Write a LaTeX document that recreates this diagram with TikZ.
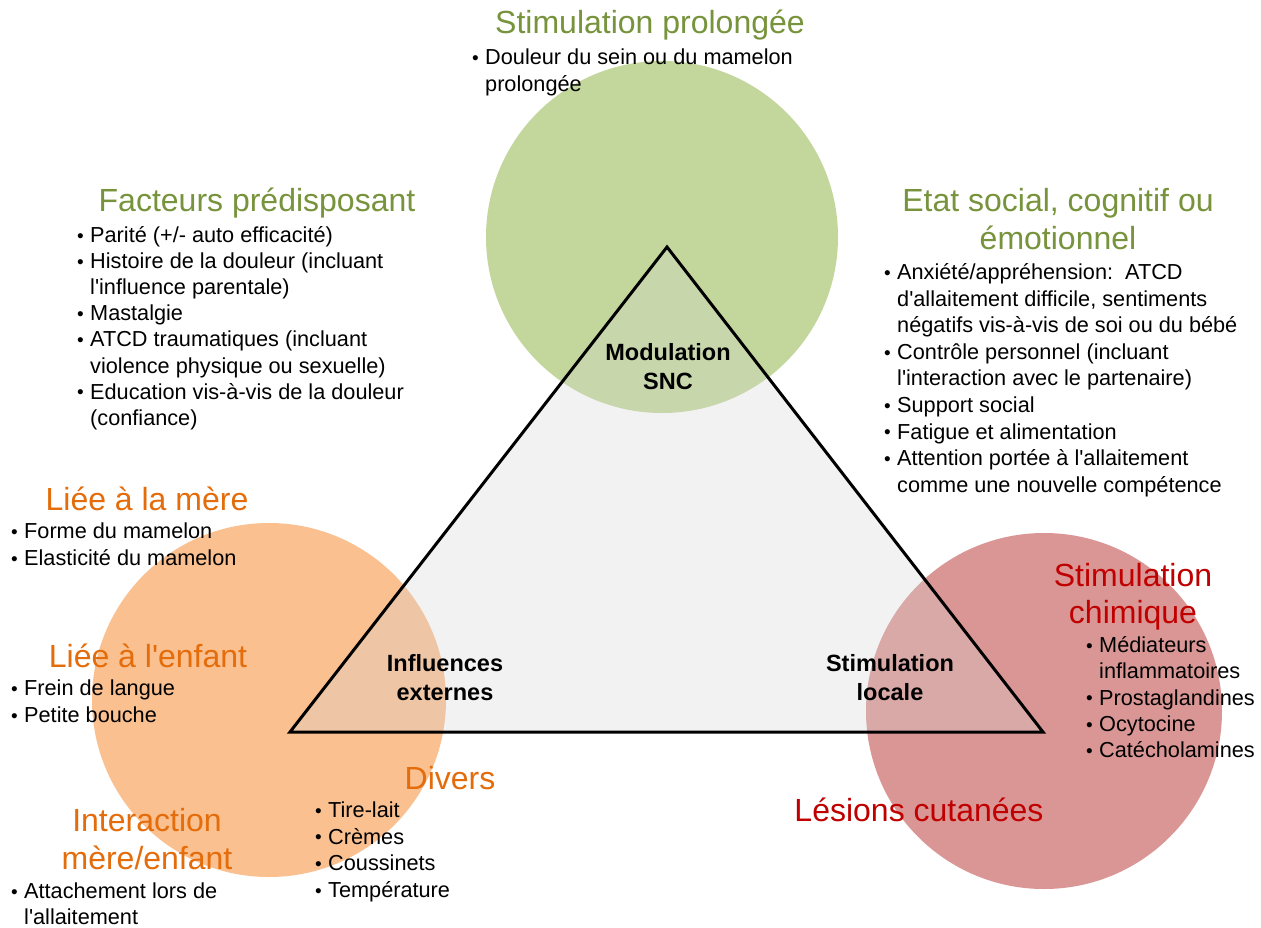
\documentclass[tikz,border=0pt]{standalone}
\usepackage{fontspec}
\setmainfont{Liberation Sans}[Ligatures=TeXOff]

% palette
\definecolor{titlegreen}{HTML}{77933C}
\definecolor{titleorange}{HTML}{E46C0A}
\definecolor{titlered}{HTML}{C00000}
\definecolor{circgreen}{HTML}{C3D69B}
\definecolor{circorange}{HTML}{FAC090}
\definecolor{circred}{HTML}{D99694}
\definecolor{trifill}{RGB}{214,214,214}

% stacked lines whose baseline is the first line
\newcommand\centerlines[1]{\vtop{\halign{\hfil##\hfil\cr#1\crcr}}}
\newcommand\leftlines[1]{\vtop{\halign{##\hfil\cr#1\crcr}}}
% bullet and hanging indent
\newcommand\bul{\hbox to 13pt{\raise0.3pt\hbox{\fontsize{19}{19}\selectfont •}\hss}}
\newcommand\cont{\hbox to 13pt{}}

\tikzset{
  ttl/.style={inner sep=0pt, anchor=base, font=\fontsize{32}{38.5}\selectfont},
  body/.style={inner sep=0pt, anchor=base west, text=black, font=\fontsize{21.7}{26.5}\selectfont},
  lbl/.style={inner sep=0pt, anchor=base, text=black, font=\bfseries\fontsize{23.5}{29}\selectfont},
}

\begin{document}
\begin{tikzpicture}[x=1pt, y=-1pt]
  \fill[white] (0,0) rectangle (1261,927);
  \useasboundingbox (0,0) rectangle (1261,927);

  % the three zones
  \fill[circgreen]  (662,237) circle (176);
  \fill[circorange] (269,700) circle (177);
  \fill[circred]    (1044,711) circle (178);

  % central triangle
  \coordinate (apex) at (667,247);
  \coordinate (bl) at (290,732);
  \coordinate (br) at (1043,732);
  \filldraw[fill=trifill, fill opacity=0.3, draw=black, line width=3pt, line join=miter]
    (apex) -- (bl) -- (br) -- cycle;

  % labels inside the triangle
  \node[lbl] (snc) at (668,360) {\centerlines{Modulation\cr SNC}};
  \node[lbl] (ext) at (445,671) {\centerlines{Influences\cr externes}};
  \node[lbl] (loc) at (890,671) {\centerlines{Stimulation\cr locale}};

  % top
  \node[ttl, text=titlegreen] (prolT) at (650,33) {Stimulation prolongée};
  \node[body] (prolL) at (472,64.5) {\leftlines{\bul Douleur du sein ou du mamelon\cr \cont prolongée}};

  % upper left
  \node[ttl, text=titlegreen] (factT) at (257,211) {Facteurs prédisposant};
  \node[body] (factL) at (77,242.5) {\baselineskip=26.1pt\relax\leftlines{%
    \bul Parité (+/- auto efficacité)\cr
    \bul Histoire de la douleur (incluant\cr
    \cont l'influence parentale)\cr
    \bul Mastalgie\cr
    \bul ATCD traumatiques (incluant\cr
    \cont violence physique ou sexuelle)\cr
    \bul Education vis-à-vis de la douleur\cr
    \cont (confiance)}};

  % upper right
  \node[ttl, text=titlegreen] (etatT) at (1058,211) {\centerlines{Etat social, cognitif ou\cr émotionnel}};
  \node[body] (etatL) at (884,279.5) {\baselineskip=26.6pt\relax\leftlines{%
    \bul Anxiété/appréhension:\ \ ATCD\cr
    \cont d'allaitement difficile, sentiments\cr
    \cont négatifs vis-à-vis de soi ou du bébé\cr
    \bul Contrôle personnel (incluant\cr
    \cont l'interaction avec le partenaire)\cr
    \bul Support social\cr
    \bul Fatigue et alimentation\cr
    \bul Attention portée à l'allaitement\cr
    \cont comme une nouvelle compétence}};

  % lower left
  \node[ttl, text=titleorange] (mereT) at (147,510) {Liée à la mère};
  \node[body] (mereL) at (11,538.5) {\baselineskip=27pt\relax\leftlines{%
    \bul Forme du mamelon\cr
    \bul Elasticité du mamelon}};
  \node[ttl, text=titleorange] (enfT) at (148,667) {Liée à l'enfant};
  \node[body] (enfL) at (11,695.5) {\baselineskip=27pt\relax\leftlines{%
    \bul Frein de langue\cr
    \bul Petite bouche}};
  \node[ttl, text=titleorange] (interT) at (147,831) {\centerlines{Interaction\cr mère/enfant}};
  \node[body] (interL) at (11,898.5) {\baselineskip=26pt\relax\leftlines{%
    \bul Attachement lors de\cr
    \cont l'allaitement}};
  \node[ttl, text=titleorange] (divT) at (450,789) {Divers};
  \node[body] (divL) at (315,817.5) {\baselineskip=26.7pt\relax\leftlines{%
    \bul Tire-lait\cr
    \bul Crèmes\cr
    \bul Coussinets\cr
    \bul Température}};

  % lower right
  \node[ttl, text=titlered] (chimT) at (1133,586) {\baselineskip=37pt\relax\centerlines{Stimulation\cr chimique}};
  \node[body] (chimL) at (1086,652.5) {\baselineskip=26.3pt\relax\leftlines{%
    \bul Médiateurs\cr
    \cont inflammatoires\cr
    \bul Prostaglandines\cr
    \bul Ocytocine\cr
    \bul Catécholamines}};
  \node[ttl, text=titlered] (lesT) at (919,821) {Lésions cutanées};
\end{tikzpicture}
\end{document}
